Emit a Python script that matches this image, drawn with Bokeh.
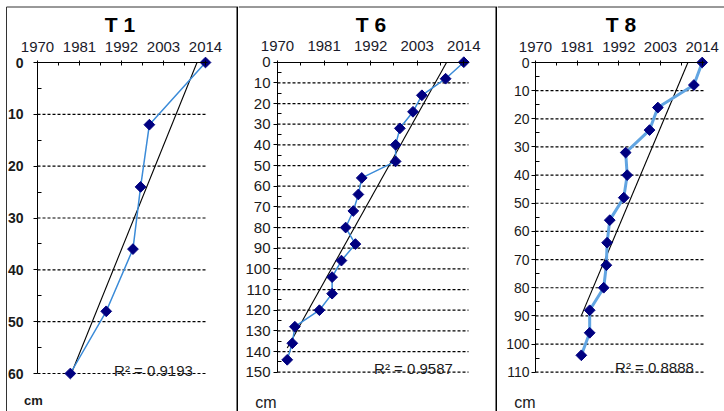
import numpy as np
from bokeh.plotting import figure
from bokeh.models import Range1d, LinearAxis, FixedTicker, Label
from bokeh.layouts import row
from bokeh.embed import file_html
from bokeh.resources import INLINE

year_ticks = [1970, 1981, 1992, 2003, 2014]
year_minor = [1975.5, 1986.5, 1997.5, 2008.5]

t1_years = [2014, 1999.3, 1997.0, 1995.0, 1988.0, 1978.6]
t1_depth = [0, 12, 24, 36, 48, 60]
t1_r2 = "R² = 0.9193"

t6_years = [2014, 2009.7, 2004.1, 2002.0, 1998.9, 1997.9, 1997.9, 1989.9, 1989.1,
            1987.9, 1986.1, 1988.4, 1985.1, 1982.9, 1982.9, 1979.9, 1974.1, 1973.5, 1972.3]
t6_depth = [0, 8, 16, 24, 32, 40, 48, 56, 64, 72, 80, 88, 96, 104, 112, 120, 128, 136, 144]
t6_r2 = "R² = 0.9587"

t8_years = [2014, 2011.8, 2002.3, 2000.1, 1993.8, 1994.2, 1993.3, 1989.6, 1988.9,
            1988.7, 1988.0, 1984.3, 1984.3, 1982.1]
t8_depth = [0, 8, 16, 24, 32, 40, 48, 56, 64, 72, 80, 88, 96, 104]
t8_r2 = "R² = 0.8888"

FONT = "Liberation Sans"
FIG_H = 411


def panel(name, years, depths, dmax, r2, s):
    fx0, W = s["fig_x"], s["width"]
    ax_x, x2014, gend = s["ax"], s["x2014"], s["gridend"]
    y0, ym = s["y0"], s["ymax"]

    def yr(px):
        return 1970 + (px - ax_x) * 44.0 / (x2014 - ax_x)

    def dp(py):
        return (py - y0) * dmax / (ym - y0)

    p = figure(width=W, height=FIG_H, title=None,
               x_range=Range1d(yr(fx0), yr(fx0 + W)), y_range=Range1d(dp(FIG_H), dp(0)),
               x_axis_type=None, y_axis_type=None,
               toolbar_location=None, output_backend="svg",
               min_border=0, min_border_left=0, min_border_right=0,
               min_border_top=0, min_border_bottom=0)
    p.outline_line_color = None
    p.background_fill_color = "white"
    p.border_fill_color = "white"

    # panel frame lines
    top = dp(6.5)
    xl = yr(s["bx0"])
    p.segment(x0=[xl], y0=[top], x1=[yr(fx0 + W)], y1=[top],
              line_color="#333333", line_width=1)
    if s.get("leftline"):
        p.segment(x0=[xl], y0=[top], x1=[xl], y1=[dp(FIG_H)],
                  line_color="#333333", line_width=1)
    if s.get("divider"):
        xd = yr(s["divider"])
        p.segment(x0=[xd], y0=[top], x1=[xd], y1=[dp(FIG_H)],
                  line_color="black", line_width=2)

    gd = list(range(10, dmax + 1, 10))
    p.segment(x0=[1970] * len(gd), y0=gd, x1=[yr(gend)] * len(gd), y1=gd,
              line_color="black", line_width=1.2, line_dash="3 2")

    xa = LinearAxis(fixed_location=0, bounds=(1970, yr(gend)),
                    ticker=FixedTicker(ticks=year_ticks, minor_ticks=year_minor))
    xa.axis_line_color = "black"
    xa.major_tick_in = 3
    xa.major_tick_out = 2
    xa.minor_tick_in = 3
    xa.minor_tick_out = 0
    xa.major_label_standoff = 9
    xa.major_label_text_font = FONT
    xa.major_label_text_font_size = "15px"
    xa.major_label_text_color = "#1a1a2a"
    p.add_layout(xa, "above")

    ya = LinearAxis(fixed_location=1970, bounds=(0, dmax),
                    ticker=FixedTicker(ticks=list(range(0, dmax + 1, 10)),
                                       minor_ticks=list(range(5, dmax, 10))))
    ya.axis_line_color = "black"
    ya.major_tick_in = 0
    ya.major_tick_out = 4
    ya.minor_tick_in = 4
    ya.minor_tick_out = 0
    ya.major_label_standoff = s["ystand"]
    ya.major_label_text_font = FONT
    ya.major_label_text_font_size = s["yfs"]
    ya.major_label_text_font_style = s["ystyle"]
    ya.major_label_text_color = "#1a1a1a"
    p.add_layout(ya, "left")

    # linear trend (depth on year), over the range of the years
    yv = np.array(years, dtype=float)
    dv = np.array(depths, dtype=float)
    a, b = np.polyfit(yv, dv, 1)
    xs = [yv.min(), yv.max()]
    ds = [a * xs[0] + b, a * xs[1] + b]
    if ds[1] < 0:
        xs[1] = -b / a
        ds[1] = 0.0
    p.line(xs, ds, line_color="black", line_width=1.1)

    p.line(years, depths, line_color=s["lc"], line_width=s["lw"])
    p.scatter(years, depths, marker="square", size=7.6, angle=np.pi / 4,
              fill_color="#000080", line_color="#000080")

    tx, ty = s["title"]
    p.add_layout(Label(x=yr(tx), y=dp(ty), text=name, text_align="center",
                       text_baseline="middle", text_font=FONT,
                       text_font_size="21px", text_font_style="bold",
                       text_color="black"))
    rx, ry = s["r2"]
    p.add_layout(Label(x=yr(rx), y=dp(ry), text=r2, text_align="center",
                       text_baseline="middle", text_font=FONT,
                       text_font_size="15px", text_color="#1a1a1a"))
    cx, cy = s["cm"]
    p.add_layout(Label(x=yr(cx), y=dp(cy), text="cm", text_align="center",
                       text_baseline="alphabetic", text_font=FONT,
                       text_font_size=s["cmfs"], text_font_style=s["cmstyle"],
                       text_color="#1a1a1a"))
    return p


s1 = dict(fig_x=0, width=238, ax=37, x2014=205, gridend=207, y0=62, ymax=373,
          bx0=6, leftline=True, divider=237,
          ystand=10, yfs="14px", ystyle="bold",
          lc="#3b8bd8", lw=1.5, title=(119.5, 24), r2=(153, 370),
          cm=(33, 400), cmfs="13px", cmstyle="bold")
s2 = dict(fig_x=238, width=259, ax=277, x2014=463.3, gridend=468, y0=61.7, ymax=371.7,
          bx0=238, divider=496,
          ystand=3, yfs="15px", ystyle="normal",
          lc="#3b8bd8", lw=1.5, title=(370.5, 24), r2=(413, 368),
          cm=(265.5, 401.5), cmfs="16px", cmstyle="normal")
s3 = dict(fig_x=497, width=227, ax=535, x2014=701.7, gridend=704, y0=62, ymax=371.7,
          bx0=497,
          ystand=2, yfs="14px", ystyle="normal",
          lc="#62a5e2", lw=3, title=(620.5, 24), r2=(654, 366.5),
          cm=(524.5, 401.5), cmfs="16px", cmstyle="normal")

p1 = panel("T 1", t1_years, t1_depth, 60, t1_r2, s1)
p2 = panel("T 6", t6_years, t6_depth, 150, t6_r2, s2)
p3 = panel("T 8", t8_years, t8_depth, 110, t8_r2, s3)

layout = row(p1, p2, p3)

open("out.html", "w").write(file_html(layout, INLINE))
